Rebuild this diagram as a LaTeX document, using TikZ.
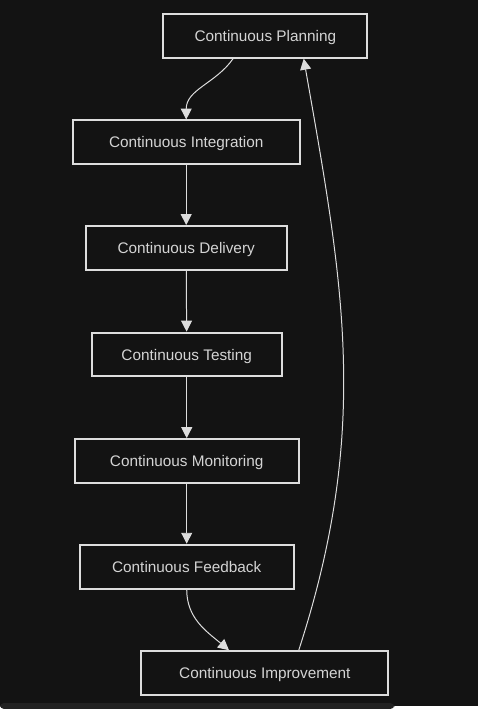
\documentclass[tikz,border=0pt]{standalone}
\usepackage{fontspec}
\setmainfont{Liberation Sans}
\usetikzlibrary{arrows.meta}
\definecolor{bgdark}{HTML}{131313}
\definecolor{boxline}{HTML}{DDDDDD}
\definecolor{boxtext}{HTML}{D4D4D4}
\definecolor{barstrip}{HTML}{222222}
\begin{document}
\begin{tikzpicture}[x=1pt,y=-1pt,
    stage/.style={draw=boxline,line width=2pt,fill=bgdark,text=boxtext,
      font=\fontsize{15.4}{17}\selectfont,inner sep=0pt,text depth=0pt,minimum height=44pt},
    flow/.style={draw=boxline,line width=1pt,-{Triangle[length=11pt,width=11pt,fill=boxline]}}]
          \fill[bgdark] (0,0) rectangle (480,709);
          \fill[barstrip,rounded corners=4pt] (0,706) rectangle (396,712);
          \useasboundingbox (0,0) rectangle (480,709);
          \node[stage,minimum width=205pt] at (266.5,36) (plan) {Continuous Planning};
          \node[stage,minimum width=228pt] at (187,143) (integ) {Continuous Integration};
          \node[stage,minimum width=202pt] at (187,249) (deliv) {Continuous Delivery};
          \node[stage,minimum width=191pt] at (187.5,356) (test) {Continuous Testing};
          \node[stage,minimum width=225pt] at (187.5,463) (monit) {Continuous Monitoring};
          \node[stage,minimum width=215pt] at (187.5,569) (feedb) {Continuous Feedback};
          \node[stage,minimum width=248pt] at (266,676) (impr) {Continuous Improvement};
          \path ([xshift=-32.5pt]plan.south) edge[flow,out=-125,in=90] (integ.north);
          \path (integ) edge[flow] (deliv);
          \path (deliv) edge[flow] (test);
          \path (test) edge[flow] (monit);
          \path (monit) edge[flow] (feedb);
          \path (feedb.south) edge[flow,out=-90,in=140] ([xshift=-36pt]impr.north);
          \path ([xshift=34pt]impr.north) edge[flow,out=72,in=-80] ([xshift=38.5pt]plan.south);
        \end{tikzpicture}
\end{document}
